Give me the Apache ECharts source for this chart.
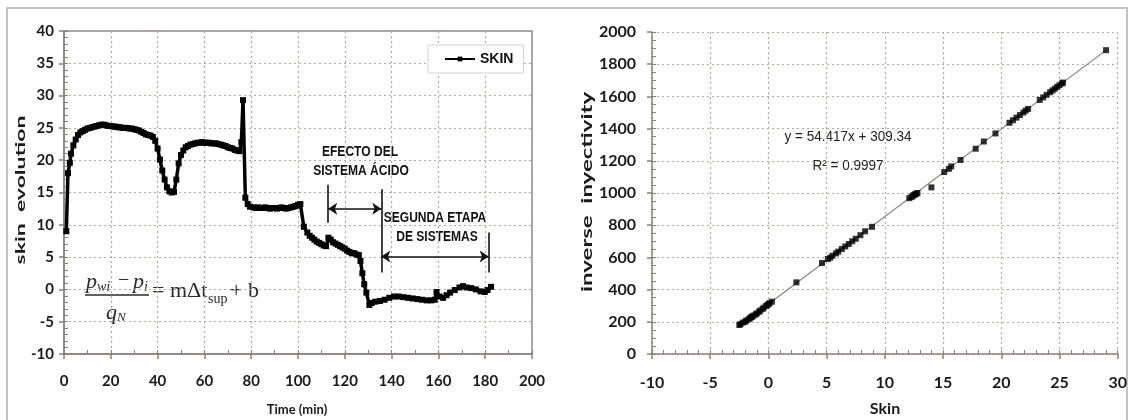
<!DOCTYPE html>
<html>
<head>
<meta charset="utf-8">
<script src="https://cdn.jsdelivr.net/npm/echarts@6/dist/echarts.min.js"></script>
<style>
  html, body { margin: 0; padding: 0; background: #ffffff; }
  #chart { width: 1130px; height: 420px; }
</style>
</head>
<body>
<div id="chart"></div>
<script>
// ---- Skin evolution during injection (left panel) ----
const timeMin = [
  1, 1.7, 2.5, 3, 4, 5, 6, 7, 8, 9, 10, 11, 12, 13, 14, 15, 16, 17, 18, 19, 20,
  21, 22, 23, 24, 25, 26, 27, 28, 29, 30, 31, 32, 33, 34, 35, 36, 37, 38, 39, 40,
  41, 42, 43, 44, 45, 46, 47, 48, 49, 50, 51, 52, 53, 54, 55, 56, 57, 58, 59, 60,
  61, 62, 63, 64, 65, 66, 67, 68, 69, 70, 71, 72, 73, 74, 75, 75.8, 76.5, 77.5, 78.5, 79.5,
  81, 82, 83, 84, 85, 86, 87, 88, 89, 90, 91, 92, 93, 94, 95, 96, 97, 98, 99, 100, 101,
  102.5, 104, 105, 106, 107, 108, 109, 110, 111, 112, 113, 114, 115, 116, 117, 118, 119, 120,
  121, 122, 123, 124, 125, 126, 126.7, 127.5, 128.3, 129.2, 130.5, 131.5, 133, 135, 137, 139,
  141, 143, 145, 147, 149, 151, 153, 155, 157, 158.4, 159.2, 160.5, 162, 163.5, 165, 167, 169,
  170.5, 172, 174, 176, 178, 179.8, 181, 182.5
];
const skinEvolution = [
  9, 18, 19.6, 21, 22.3, 23.2, 23.9, 24.3, 24.5, 24.7, 24.9, 25.0, 25.1, 25.2, 25.3, 25.4, 25.5, 25.5, 25.4, 25.3, 25.3,
  25.2, 25.2, 25.1, 25.1, 25.0, 25.0, 25.0, 24.9, 24.9, 24.8, 24.7, 24.6, 24.4, 24.2, 24.0, 23.9, 23.8, 23.6, 23.0, 21.8,
  20.1, 18.4, 17.0, 15.8, 15.2, 15.0, 15.1, 17.0, 19.5, 20.8, 21.5, 22.0, 22.2, 22.4, 22.5, 22.6, 22.7, 22.7, 22.8, 22.7,
  22.7, 22.7, 22.6, 22.6, 22.6, 22.5, 22.4, 22.3, 22.2, 22.0, 21.9, 21.8, 21.6, 21.5, 21.4, 22.8, 29.3, 14.2, 13.2, 12.8,
  12.7, 12.6, 12.7, 12.6, 12.6, 12.7, 12.6, 12.5, 12.6, 12.6, 12.5, 12.6, 12.7, 12.6, 12.5, 12.6, 12.7, 12.8, 12.9, 13.1, 13.2,
  9.7, 8.8, 8.3, 8.0, 7.7, 7.4, 7.2, 7.0, 6.8, 6.7, 8.0, 7.7, 7.3, 7.1, 6.9, 6.7, 6.5, 6.3,
  6.0, 5.8, 5.6, 5.6, 5.4, 5.3, 4.4, 2.5, 0.8, -0.5, -2.4, -2.1, -1.9, -1.8, -1.6, -1.3,
  -1.1, -1.1, -1.2, -1.3, -1.4, -1.5, -1.6, -1.7, -1.7, -1.6, -0.4, -1.1, -1.3, -0.9, -0.5, -0.1, 0.3,
  0.5, 0.3, 0.2, 0.0, -0.3, -0.4, -0.1, 0.4
];
const seriesName = 'SKIN';

// ---- Inverse injectivity vs skin (right panel) ----
const skinValues = [
  -2.5, -2.4, -2.2, -2.0, -1.9, -1.7, -1.6, -1.5, -1.4, -1.3, -1.1, -1.0, -0.8, -0.7, -0.5, -0.4, -0.2, -0.1, 0.0, 0.1, 0.3,
  2.4, 4.6, 5.1, 5.3, 5.5, 5.8, 6.0, 6.3, 6.6, 6.9, 7.2, 7.5, 7.9, 8.3, 8.9,
  12.1, 12.3, 12.4, 12.5, 12.6, 12.7, 12.8, 14.0, 15.1, 15.5, 15.7, 16.5, 17.8, 18.5, 19.5,
  20.7, 21.0, 21.3, 21.6, 21.9, 22.1, 22.3, 23.3, 23.6, 23.9, 24.2, 24.4, 24.6, 24.8, 25.0, 25.2, 25.3, 29.0
];
const inverseInyectivity = [
  180, 186, 195, 200, 208, 215, 222, 228, 232, 238, 245, 252, 262, 270, 280, 288, 298, 303, 310, 316, 325,
  445, 565, 590, 598, 610, 625, 636, 652, 668, 683, 700, 716, 738, 762, 790,
  968, 975, 983, 988, 992, 995, 1000, 1035, 1130, 1150, 1165, 1205, 1275, 1320, 1370,
  1436, 1452, 1468, 1484, 1500, 1512, 1522, 1578, 1594, 1610, 1626, 1637, 1648, 1659, 1670, 1680, 1686, 1887
];
// Linear fit reported on the chart
const trendSlope = 54.417;
const trendIntercept = 309.34;
const trendRange = [-2.5, 29];
const trendLabel = ['y = 54.417x + 309.34', 'R² = 0.9997'];

const AXIS_COLOR = '#8c8079';
const GRID_COLOR = '#b8a79c';
const TICK_FONT = 'Lato, "Noto Sans", sans-serif';
const NARROW = '"Liberation Sans", Arial, sans-serif';
const SERIF = '"Liberation Serif", "DejaVu Serif", serif';

const skinPoints = timeMin.map((t, i) => [t, skinEvolution[i]]);
const scatterPoints = skinValues.map((s, i) => [s, inverseInyectivity[i]]);
const trendPoints = trendRange.map(x => [x, trendSlope * x + trendIntercept]);

function mainAxis(extra) {
  return Object.assign({
    type: 'value',
    axisLine: { show: true, onZero: false, lineStyle: { color: AXIS_COLOR, width: 1.5 } },
    axisTick: { show: true, inside: false, length: 5, lineStyle: { color: AXIS_COLOR, width: 1.5 } },
    splitLine: { show: true, lineStyle: { color: GRID_COLOR, type: [2, 3], width: 1.2 } },
    minorTick: { show: false }
  }, extra);
}
function minorAxis(extra) {
  return Object.assign({
    type: 'value',
    axisLine: { show: false, onZero: false },
    axisLabel: { show: false },
    splitLine: { show: false },
    axisTick: { show: true, inside: true, length: 4, lineStyle: { color: AXIS_COLOR, width: 1 } }
  }, extra);
}
const plainNumber = v => String(v);

// narrow bold caption drawn by horizontally compressing a regular bold face
function caption(text, x, y) {
  return { type: 'text', x: x, y: y, scaleX: 0.86,
    style: { text: text, font: 'bold 14px ' + NARROW, fill: '#111', align: 'center', verticalAlign: 'middle' } };
}
function formulaText(text, x, y, size, italic) {
  return { type: 'text', x: x, y: y,
    style: { text: text, font: (italic ? 'italic ' : '') + size + 'px ' + SERIF, fill: '#2a2a2a', verticalAlign: 'middle' } };
}

const chart = echarts.init(document.getElementById('chart'), null, { renderer: 'canvas' });

chart.setOption({
  backgroundColor: '#ffffff',
  animation: false,
  grid: [
    { left: 64, top: 31, width: 468, height: 323, show: true, borderColor: '#8a8a8a', borderWidth: 1.5, backgroundColor: 'transparent' },
    { left: 652, top: 32, width: 466, height: 322 }
  ],
  xAxis: [
    mainAxis({ gridIndex: 0, min: 0, max: 200, interval: 20, position: 'bottom',
      axisLabel: { margin: 20, fontFamily: TICK_FONT, fontWeight: 'bold', fontSize: 15, color: '#1a1a1a', formatter: plainNumber } }),
    minorAxis({ gridIndex: 0, min: 0, max: 200, interval: 10, position: 'bottom' }),
    mainAxis({ gridIndex: 1, min: -10, max: 30, interval: 5, position: 'bottom',
      axisLabel: { margin: 21, fontFamily: TICK_FONT, fontWeight: 'bold', fontSize: 16, color: '#1a1a1a', formatter: plainNumber } }),
    minorAxis({ gridIndex: 1, min: -10, max: 30, interval: 1, position: 'bottom' })
  ],
  yAxis: [
    mainAxis({ gridIndex: 0, min: -10, max: 40, interval: 5, position: 'left',
      axisLabel: { margin: 10, fontFamily: TICK_FONT, fontWeight: 'bold', fontSize: 15, color: '#1a1a1a', formatter: plainNumber } }),
    minorAxis({ gridIndex: 0, min: -10, max: 40, interval: 1, position: 'left' }),
    mainAxis({ gridIndex: 1, min: 0, max: 2000, interval: 200, position: 'left',
      axisLabel: { margin: 16, fontFamily: TICK_FONT, fontWeight: 'bold', fontSize: 16, color: '#1a1a1a', formatter: plainNumber } }),
    minorAxis({ gridIndex: 1, min: 0, max: 2000, interval: 50, position: 'left' })
  ],
  legend: {
    data: [seriesName],
    left: 428, top: 45,
    padding: [7, 10, 7, 16],
    backgroundColor: '#ffffff',
    borderColor: '#d2d2d2',
    borderWidth: 1,
    itemWidth: 30, itemHeight: 6,
    lineStyle: { width: 2 },
    textStyle: { fontFamily: NARROW, fontWeight: 'bold', fontSize: 14, color: '#111' }
  },
  series: [
    {
      name: seriesName,
      type: 'line',
      xAxisIndex: 0, yAxisIndex: 0,
      data: skinPoints,
      symbol: 'rect', symbolSize: 6,
      lineStyle: { color: '#000', width: 3.5 },
      itemStyle: { color: '#000' },
      z: 5,
      markLine: {
        silent: true,
        symbol: ['none', 'none'],
        symbolSize: 9,
        label: { show: false },
        lineStyle: { color: '#111', width: 1.6, type: 'solid' },
        data: [
          [{ coord: [112.9, 16.2] }, { coord: [112.9, 10.3] }],
          [{ coord: [135.6, 15.5] }, { coord: [135.6, 2.6] }],
          [{ coord: [181.5, 8.8] }, { coord: [181.5, 2.6] }],
          [{ coord: [112.9, 12.5], symbol: 'arrow' }, { coord: [135.6, 12.5], symbol: 'arrow' }],
          [{ coord: [135.6, 5.1], symbol: 'arrow' }, { coord: [181.5, 5.1], symbol: 'arrow' }]
        ]
      }
    },
    {
      name: 'trend',
      type: 'line',
      xAxisIndex: 2, yAxisIndex: 2,
      data: trendPoints,
      symbol: 'none',
      lineStyle: { color: '#8a7d76', width: 1.2 },
      z: 3
    },
    {
      name: 'inverse inyectivity',
      type: 'scatter',
      xAxisIndex: 2, yAxisIndex: 2,
      data: scatterPoints,
      symbol: 'rect', symbolSize: 6,
      itemStyle: { color: '#000' },
      z: 4
    }
  ],
  graphic: [
    // outer frame
    { type: 'rect', shape: { x: 7, y: 8, width: 1120, height: 420 },
      style: { fill: 'none', stroke: '#c4c4c4', lineWidth: 2 }, silent: true },
    // axis titles
    { type: 'text', x: 20, y: 190, rotation: Math.PI / 2, scaleX: 1.64,
      style: { text: 'skin  evolution', font: 'bold 14px ' + TICK_FONT, fill: '#1a1a1a', align: 'center', verticalAlign: 'middle' } },
    { type: 'text', x: 297, y: 410,
      style: { text: 'Time (min)', font: 'bold 13px ' + TICK_FONT, fill: '#1a1a1a', align: 'center', verticalAlign: 'middle' } },
    { type: 'text', x: 587, y: 192, rotation: Math.PI / 2, scaleX: 1.5,
      style: { text: 'inverse  inyectivity', font: 'bold 16px ' + TICK_FONT, fill: '#1a1a1a', align: 'center', verticalAlign: 'middle' } },
    { type: 'text', x: 885, y: 409,
      style: { text: 'Skin', font: 'bold 16px ' + TICK_FONT, fill: '#1a1a1a', align: 'center', verticalAlign: 'middle' } },
    // annotations
    caption('EFECTO DEL', 360, 152),
    caption('SISTEMA ÁCIDO', 361, 171),
    caption('SEGUNDA ETAPA', 435, 218),
    caption('DE SISTEMAS', 437, 237),
    // fitted line equation
    { type: 'text', x: 848, y: 137, scaleX: 0.9,
      style: { text: trendLabel[0], font: '15px ' + NARROW, fill: '#222', align: 'center', verticalAlign: 'middle' } },
    { type: 'text', x: 848, y: 166, scaleX: 0.9,
      style: { text: trendLabel[1], font: '15px ' + NARROW, fill: '#222', align: 'center', verticalAlign: 'middle' } },
    // (p_wi - p_i) / q_N = m Δt_sup + b
    formulaText('p', 86, 282, 22, true),
    formulaText('wi', 97, 287, 14, true),
    formulaText('−', 118, 281, 20, false),
    formulaText('p', 133, 282, 22, true),
    formulaText('i', 144, 287, 14, true),
    { type: 'line', shape: { x1: 85, y1: 295, x2: 149, y2: 295 }, style: { stroke: '#2a2a2a', lineWidth: 1.3 } },
    formulaText('q', 106, 313, 22, true),
    formulaText('N', 117, 318, 13, true),
    formulaText('= mΔt', 152, 291, 22, false),
    formulaText('sup', 208, 299, 14, false),
    formulaText('+ b', 230, 291, 22, false)
  ]
});
</script>
</body>
</html>
